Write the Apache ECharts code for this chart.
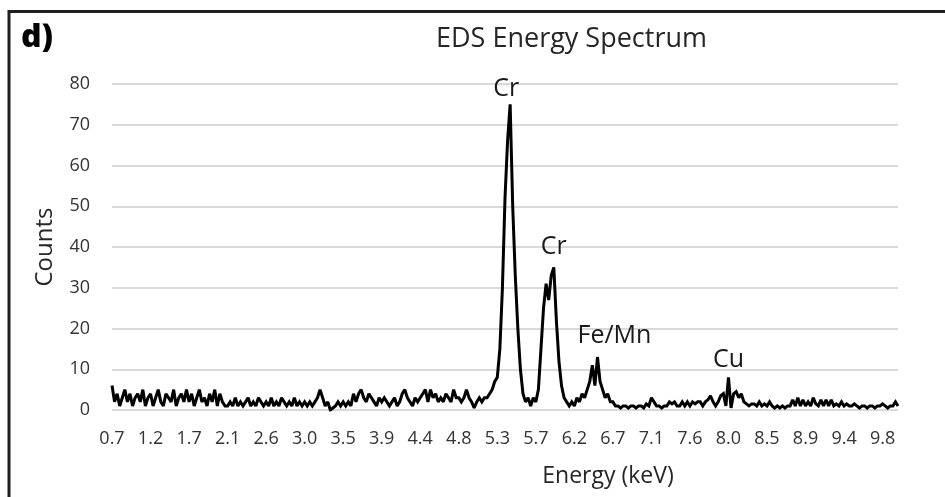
<!DOCTYPE html>
<html>
<head>
<meta charset="utf-8">
<script src="https://cdn.jsdelivr.net/npm/echarts@6/dist/echarts.min.js"></script>
<style>
  html, body { margin: 0; padding: 0; background: #fff; }
  #chart { width: 945px; height: 497px; }
</style>
</head>
<body>
<div id="chart"></div>
<script>
// x tick labels (keV), one every 15 channels
const tickLabels = ['0.7', '1.2', '1.7', '2.1', '2.6', '3.0', '3.5', '3.9', '4.4', '4.8', '5.3',
  '5.7', '6.2', '6.7', '7.1', '7.6', '8.0', '8.5', '8.9', '9.4', '9.8']
const channelsPerTick = 15

// counts per channel
const counts = [
  6, 2, 4, 1, 3, 5, 2, 4, 1, 3, 4, 2, 5, 1, 3,
  4, 1, 3, 5, 2, 1, 4, 3, 2, 5, 1, 3, 4, 2, 5,
  2, 4, 1, 3, 5, 2, 3, 1, 4, 2, 5, 1, 4, 2, 1,
  1, 2, 1, 3, 1, 2, 1, 2, 3, 1, 2, 1, 3, 2, 1,
  2, 1, 3, 1, 2, 1, 3, 2, 1, 2, 1, 3, 1, 2, 1,
  2, 1, 2, 1, 2, 3, 5, 3, 1, 2, 0, 0.5, 1, 2, 1,
  2, 1, 2, 1, 4, 2, 4, 5, 3, 2, 4, 3, 2, 1, 3,
  2, 3, 2, 1, 2, 3, 1, 2, 4, 5, 3, 2, 1, 3, 2,
  3, 4, 5, 2, 5, 3, 4, 2, 3, 2, 4, 3, 2, 5, 3,
  3, 2, 3, 5, 3, 2, 0.5, 2, 3, 2, 3, 3, 4, 5, 7,
  8, 15, 30, 52, 66, 75, 50, 33, 20, 10, 4, 2, 3, 1, 3,
  2, 5, 15, 25, 31, 27, 33, 35, 22, 12, 6, 3, 2, 1, 2,
  1, 3, 2, 4, 3, 5, 7, 11, 6, 13, 7, 5, 3, 4, 2,
  2, 1, 1, 0.5, 1, 1, 0.5, 1, 1, 0.5, 1, 1, 0.5, 1.5, 1,
  3, 2, 1, 1, 0.5, 1, 1, 2, 1.5, 2, 1, 1, 2, 1, 2,
  1, 2, 1.5, 2, 2, 1, 2, 2.5, 3.5, 2, 1, 2, 3.5, 4, 1,
  8, 0.5, 4, 4.5, 3, 4, 2, 1.5, 1, 1.5, 1.5, 1, 2, 1, 1.5,
  1, 2, 1, 0.5, 1, 0.5, 1, 0.5, 1, 1, 2.5, 1, 3, 1, 2.5,
  1, 2, 1, 3, 1.5, 1, 2.5, 1, 2.5, 1, 2.5, 1, 1.5, 1, 2,
  1, 1.5, 1, 1, 1.5, 1, 0.5, 1, 1, 0.5, 1, 1, 0.5, 1, 1,
  1.5, 1, 0.5, 1, 1, 2, 1
]

// peak annotations
const peakNames = ['Cr', 'Cr', 'Fe/Mn', 'Cu']
const peakChannels = [155, 172, 189, 240]
const peakOffsets = [[-4, -16], [0, -21], [17, -21], [0, -18]]

const channels = counts.map((_, i) => i)

const chart = echarts.init(document.getElementById('chart'))

const FONT = '"Open Sans", "Noto Sans", sans-serif'

const option = {
  animation: false,
  title: {
    text: 'EDS Energy Spectrum',
    left: 431,
    top: 21,
    textStyle: {
      fontFamily: FONT,
      fontSize: 27,
      fontWeight: 'normal',
      color: '#262626'
    }
  },
  grid: {
    left: 112,
    right: 47,
    top: 84,
    bottom: 87
  },
  xAxis: {
    type: 'category',
    data: channels,
    boundaryGap: false,
    axisLine: { show: false },
    axisTick: { show: false },
    axisLabel: {
      interval: channelsPerTick - 1,
      margin: 20,
      fontFamily: FONT,
      fontSize: 18,
      color: '#333',
      formatter: (v, idx) => tickLabels[idx / channelsPerTick] || ''
    },
    splitLine: { show: false }
  },
  yAxis: {
    type: 'value',
    min: 0,
    max: 80,
    interval: 10,
    axisLine: { show: false },
    axisTick: { show: false },
    axisLabel: {
      margin: 22,
      fontFamily: FONT,
      fontSize: 18,
      color: '#333'
    },
    splitLine: {
      lineStyle: { color: '#d9d9d9', width: 2 }
    }
  },
  series: [{
    type: 'line',
    data: counts,
    showSymbol: false,
    symbol: 'none',
    lineStyle: { color: '#000', width: 3, join: 'miter', miterLimit: 2 },
    markPoint: {
      symbol: 'circle',
      symbolSize: 0,
      label: {
        show: true,
        position: 'inside',
        fontFamily: FONT,
        fontSize: 25,
        color: '#1a1a1a',
        formatter: '{b}'
      },
      data: peakNames.map((name, k) => ({
        name: name,
        coord: [peakChannels[k], counts[peakChannels[k]]],
        label: { offset: peakOffsets[k] }
      }))
    }
  }],
  graphic: [
    {
      type: 'rect',
      shape: { x: 9, y: 11.5, width: 1200, height: 1200 },
      style: { fill: 'none', stroke: '#1f1f1f', lineWidth: 3 },
      silent: true
    },
    {
      type: 'text',
      x: 21,
      y: 22,
      style: {
        text: 'd)',
        font: '900 32px ' + FONT,
        fill: '#000'
      }
    },
    {
      type: 'text',
      x: 45,
      y: 247,
      rotation: Math.PI / 2,
      style: {
        text: 'Counts',
        font: '24px ' + FONT,
        fill: '#262626',
        align: 'center',
        verticalAlign: 'middle'
      }
    },
    {
      type: 'text',
      x: 608,
      y: 476,
      style: {
        text: 'Energy (keV)',
        font: '23px ' + FONT,
        fill: '#262626',
        align: 'center',
        verticalAlign: 'middle'
      }
    }
  ]
}

chart.setOption(option)
</script>
</body>
</html>
